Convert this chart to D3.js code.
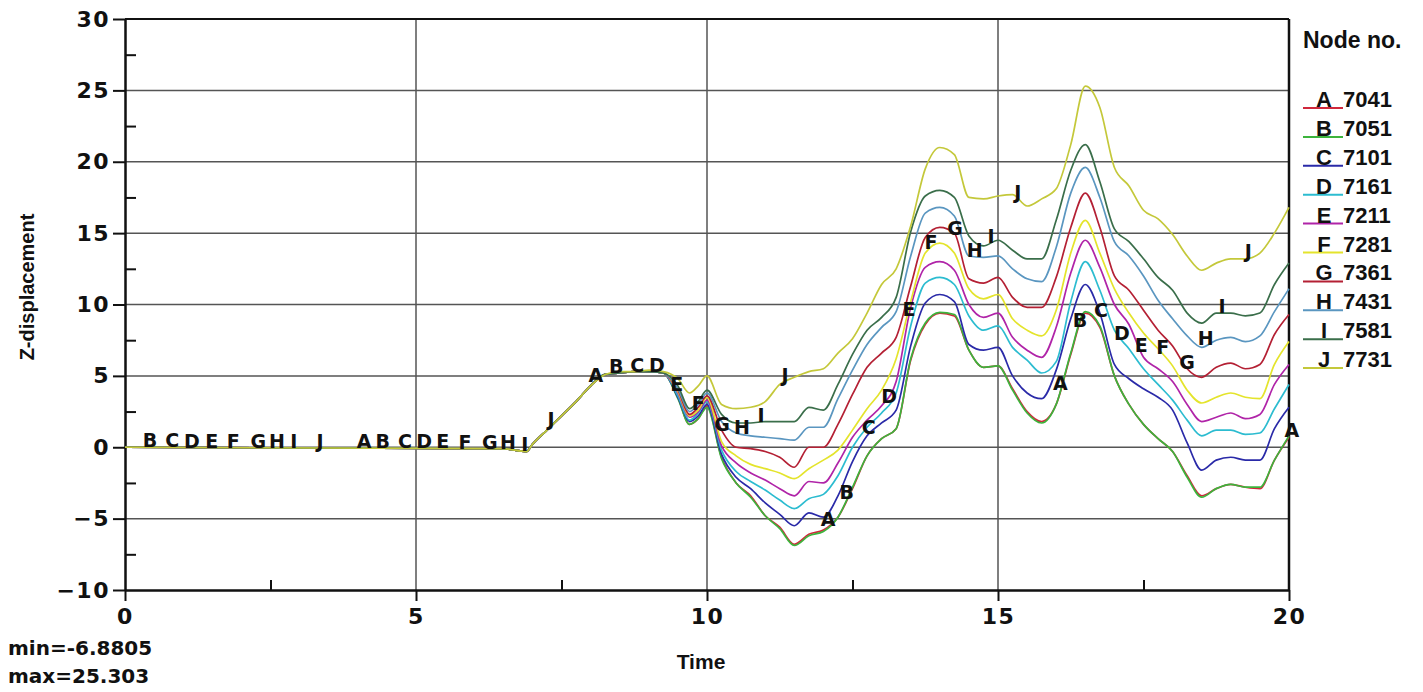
<!DOCTYPE html>
<html>
<head>
<meta charset="utf-8">
<script src="https://cdn.jsdelivr.net/npm/d3@7"></script>
<style>
  html, body { margin: 0; padding: 0; background: #fff; }
  svg { display: block; }
  text { font-weight: bold; fill: #111; }
</style>
</head>
<body>
<svg width="1423" height="692"></svg>
<script>
// time samples (s)
const times = [0, 6.5, 6.9, 7.0, 7.25, 7.5, 7.75, 8.0, 8.25, 8.5, 8.75, 9.0, 9.25,
  9.5, 9.7, 9.85, 10.0, 10.25, 10.5, 10.75, 11.0, 11.25, 11.5, 11.75, 12.0, 12.25, 12.5, 12.75,
  13.0, 13.25, 13.5, 13.75, 14.0, 14.25, 14.5, 14.75, 15.0, 15.25, 15.5, 15.75, 16.0, 16.25,
  16.5, 16.75, 17.0, 17.25, 17.5, 17.75, 18.0, 18.25, 18.5, 18.75, 19.0, 19.25, 19.5, 19.75, 20.0];

// z-displacement per node
const nodeA = [0, -0.1, -0.3, 0.2, 1.2, 2.2, 3.2, 4.3, 5.1, 5.2, 5.3, 5.3, 5.2,
  3.5, 1.6, 2.0, 2.9, -0.7, -2.5, -3.4, -4.8, -5.6, -6.8, -6.1, -5.8, -4.9, -2.9, -0.6, 0.6, 1.3,
  6.1, 8.6, 9.4, 9.2, 6.8, 5.6, 5.7, 4.1, 2.5, 1.8, 3.0, 6.5, 9.4, 8.4, 5.0, 3.0, 1.6, 0.6, -0.3,
  -2.0, -3.4, -2.9, -2.6, -2.8, -2.9, -0.9, 0.7];
const nodeB = [0, -0.1, -0.3, 0.2, 1.2, 2.2, 3.2, 4.3, 5.1, 5.2, 5.3, 5.3, 5.2,
  3.4, 1.6, 2.0, 2.8, -0.8, -2.5, -3.5, -4.8, -5.7, -6.88, -6.2, -5.9, -4.9, -2.8, -0.6, 0.6, 1.3,
  6.2, 8.7, 9.45, 9.3, 6.8, 5.6, 5.7, 4.0, 2.4, 1.7, 3.0, 6.6, 9.5, 8.5, 5.0, 3.0, 1.6, 0.6, -0.3,
  -2.1, -3.5, -2.9, -2.6, -2.8, -2.8, -0.9, 0.8];
const nodeC = [0, -0.1, -0.3, 0.2, 1.2, 2.2, 3.2, 4.3, 5.1, 5.2, 5.3, 5.3, 5.2,
  3.5, 1.8, 2.2, 3.0, -0.5, -2.1, -2.9, -3.9, -4.7, -5.5, -4.6, -4.9, -3.4, -1.0, 0.8, 1.7, 2.6,
  7.1, 10.1, 10.7, 10.2, 7.2, 6.8, 7.0, 5.0, 3.8, 3.4, 5.4, 9.0, 11.4, 9.4, 5.8, 4.8, 4.1, 3.5, 2.6,
  0.3, -1.6, -0.9, -0.7, -0.9, -0.9, 1.3, 2.8];
const nodeD = [0, -0.1, -0.3, 0.2, 1.2, 2.2, 3.2, 4.3, 5.1, 5.2, 5.3, 5.3, 5.2,
  3.6, 1.9, 2.4, 3.2, -0.2, -1.7, -2.4, -3.0, -3.7, -4.3, -3.6, -3.3, -2.0, 0.0, 1.4, 2.4, 3.8,
  8.5, 11.5, 11.9, 11.4, 9.2, 8.2, 8.5, 7.0, 6.1, 5.2, 6.0, 10.2, 13.0, 11.0, 8.2, 6.9, 5.5, 4.4, 3.3,
  1.9, 0.8, 1.2, 1.2, 0.9, 1.0, 2.7, 4.4];
const nodeE = [0, -0.1, -0.3, 0.2, 1.2, 2.2, 3.2, 4.3, 5.1, 5.2, 5.3, 5.3, 5.2,
  3.8, 2.1, 2.5, 3.3, 0.1, -1.1, -1.8, -2.3, -2.9, -3.4, -2.4, -2.5, -1.1, 0.7, 1.9, 2.9, 4.6,
  9.8, 12.6, 13.0, 12.4, 10.0, 9.1, 9.4, 7.7, 6.8, 6.3, 8.4, 12.2, 14.5, 12.6, 10.0, 8.6, 6.3, 5.5, 4.6,
  3.0, 1.8, 2.1, 2.4, 2.0, 2.3, 4.4, 5.8];
const nodeF = [0, -0.1, -0.3, 0.2, 1.2, 2.2, 3.2, 4.3, 5.1, 5.2, 5.3, 5.3, 5.2,
  3.9, 2.2, 2.6, 3.5, 0.4, -0.6, -1.2, -1.5, -1.8, -2.2, -1.5, -0.9, -0.2, 1.2, 2.7, 4.0, 6.2,
  10.2, 13.6, 14.3, 13.6, 11.1, 10.4, 10.7, 9.0, 8.2, 7.8, 9.6, 13.6, 15.9, 13.6, 11.1, 9.4, 8.0, 6.9, 5.7,
  4.0, 3.1, 3.5, 3.8, 3.5, 3.4, 5.8, 7.4];
const nodeG = [0, -0.1, -0.3, 0.2, 1.2, 2.2, 3.2, 4.3, 5.1, 5.2, 5.3, 5.3, 5.2,
  4.0, 2.3, 2.8, 3.6, 1.2, 0.0, -0.1, -0.3, -0.7, -1.4, 0.0, 0.0, 1.6, 3.7, 5.6, 6.6, 7.7,
  11.3, 14.7, 15.4, 15.0, 11.8, 11.5, 11.9, 10.5, 9.8, 9.8, 11.9, 15.4, 17.8, 15.4, 12.0, 11.0, 9.6, 8.2, 7.1,
  5.5, 4.9, 5.6, 5.9, 5.5, 5.8, 7.9, 9.3];
const nodeH = [0, -0.1, -0.3, 0.2, 1.2, 2.2, 3.2, 4.3, 5.1, 5.2, 5.3, 5.3, 5.2,
  4.1, 2.5, 3.0, 3.8, 1.8, 1.0, 0.8, 0.7, 0.6, 0.5, 1.4, 1.4, 3.4, 5.4, 7.2, 8.4, 9.5,
  13.4, 16.4, 16.8, 16.2, 13.4, 13.3, 13.4, 12.5, 11.8, 11.6, 14.0, 17.8, 19.6, 17.5, 14.4, 13.4, 12.0, 10.3, 9.0,
  7.8, 7.0, 7.5, 7.7, 7.4, 7.8, 9.5, 11.1];
const nodeI = [0, -0.1, -0.3, 0.2, 1.2, 2.2, 3.2, 4.3, 5.1, 5.2, 5.3, 5.3, 5.2,
  4.3, 2.7, 3.2, 4.0, 2.3, 1.7, 1.7, 1.8, 1.8, 1.8, 2.8, 2.6, 4.4, 6.5, 8.2, 9.1, 10.5,
  15.1, 17.6, 18.0, 17.5, 14.8, 14.1, 14.5, 13.8, 13.2, 13.2, 15.9, 19.4, 21.2, 18.6, 15.3, 14.4, 13.2, 11.9, 11.0,
  9.4, 8.7, 9.4, 9.4, 9.2, 9.4, 11.4, 12.9];
const nodeJ = [0, -0.1, -0.3, 0.2, 1.2, 2.2, 3.2, 4.3, 5.1, 5.3, 5.3, 5.4, 5.3,
  4.8, 3.8, 4.3, 5.0, 3.0, 2.7, 2.8, 3.2, 4.4, 4.9, 5.3, 5.5, 6.6, 7.6, 9.4, 11.4, 12.5,
  15.5, 19.5, 21.0, 20.5, 17.5, 17.4, 17.6, 17.7, 16.9, 17.4, 18.1, 21.2, 25.3, 23.8, 19.6, 18.3, 16.6, 16.0, 14.9,
  13.4, 12.4, 12.9, 13.2, 13.2, 13.6, 15.0, 16.8];

const nodeLetters = ["A", "B", "C", "D", "E", "F", "G", "H", "I", "J"];
const nodeNumbers = ["7041", "7051", "7101", "7161", "7211", "7281", "7361", "7431", "7581", "7731"];
const nodeColors = ["#d0283c", "#3cb43c", "#2a2aa8", "#2cbcd0", "#b024a8", "#e4e42c", "#b42034", "#5a96c0", "#3a6e4a", "#c4c83a"];

// times at which the curve letters are written
const markerTimes = [
  [4.11, 8.09, 12.08, 16.07, 20.05],
  [0.43, 4.43, 8.44, 12.4, 16.41],
  [0.81, 4.81, 8.8, 12.78, 16.77],
  [1.15, 5.14, 9.14, 13.13, 17.13],
  [1.49, 5.46, 9.48, 13.47, 17.46],
  [1.86, 5.84, 9.85, 13.85, 17.83],
  [2.29, 6.27, 10.26, 14.26, 18.25],
  [2.61, 6.58, 10.6, 14.6, 18.57],
  [2.9, 6.87, 10.93, 14.88, 18.85],
  [3.35, 7.32, 11.34, 15.34, 19.3]
];

const xTicks = [0, 5, 10, 15, 20];
const yTicks = [-10, -5, 0, 5, 10, 15, 20, 25, 30];
const xMinor = [2.5, 7.5, 12.5, 17.5];
const yMinor = [-7.5, -2.5, 2.5, 7.5, 12.5, 17.5, 22.5, 27.5];

const seriesValues = [nodeA, nodeB, nodeC, nodeD, nodeE, nodeF, nodeG, nodeH, nodeI, nodeJ];

const svg = d3.select("svg");
const plotLeft = 125, plotRight = 1289, plotTop = 19, plotBottom = 590;

const x = d3.scaleLinear().domain([0, 20]).range([plotLeft, plotRight]);
const y = d3.scaleLinear().domain([-10, 30]).range([plotBottom, plotTop]);

const dejavu = '"DejaVu Sans", sans-serif';
const libsans = '"Liberation Sans", Arial, sans-serif';

// grid
svg.append("g")
  .selectAll("line")
  .data(xTicks.slice(1, -1))
  .join("line")
  .attr("x1", d => x(d)).attr("x2", d => x(d))
  .attr("y1", plotTop).attr("y2", plotBottom)
  .attr("stroke", "#555").attr("stroke-width", 1.5);
svg.append("g")
  .selectAll("line")
  .data(yTicks.slice(1, -1))
  .join("line")
  .attr("x1", plotLeft).attr("x2", plotRight)
  .attr("y1", d => y(d)).attr("y2", d => y(d))
  .attr("stroke", "#555").attr("stroke-width", 1.5);

// frame
svg.append("line").attr("x1", plotLeft).attr("x2", plotRight).attr("y1", plotTop).attr("y2", plotTop)
  .attr("stroke", "#111").attr("stroke-width", 2);
svg.append("line").attr("x1", plotRight).attr("x2", plotRight).attr("y1", plotTop).attr("y2", plotBottom)
  .attr("stroke", "#111").attr("stroke-width", 2.5);

// axes
const yAxis = svg.append("g")
  .attr("transform", `translate(${plotLeft},0)`)
  .call(d3.axisLeft(y).tickValues(yTicks).tickSize(12).tickPadding(3).tickSizeOuter(0));
const yMinorAxis = svg.append("g")
  .attr("transform", `translate(${plotLeft},0)`)
  .call(d3.axisRight(y).tickValues(yMinor).tickSize(11).tickFormat("").tickSizeOuter(0));
const xAxis = svg.append("g")
  .attr("transform", `translate(0,${plotBottom})`)
  .call(d3.axisBottom(x).tickValues(xTicks).tickSize(11).tickPadding(6).tickSizeOuter(0));
const xMinorAxis = svg.append("g")
  .attr("transform", `translate(0,${plotBottom})`)
  .call(d3.axisTop(x).tickValues(xMinor).tickSize(10).tickFormat("").tickSizeOuter(0));

[yAxis, yMinorAxis, xAxis, xMinorAxis].forEach(g => {
  g.selectAll("path.domain").attr("stroke", "#111").attr("stroke-width", 2);
  g.selectAll(".tick line").attr("stroke", "#111").attr("stroke-width", 2);
});
[yAxis, xAxis].forEach(g => {
  g.selectAll(".tick text")
    .style("font-family", dejavu).style("font-size", "22px").style("font-weight", "bold")
    .style("letter-spacing", "1.5px").attr("fill", "#111");
});
xAxis.selectAll(".tick text").attr("dy", "0.75em");

// curves
const line = d3.line()
  .x((d, i) => x(times[i]))
  .y(d => y(d))
  .curve(d3.curveMonotoneX);

svg.append("g")
  .selectAll("path")
  .data(seriesValues)
  .join("path")
  .attr("d", d => line(d))
  .attr("fill", "none")
  .attr("stroke", (d, i) => nodeColors[i])
  .attr("stroke-width", 1.7)
  .attr("stroke-linejoin", "round");

// letters along the curves
function valueAt(vals, t) {
  if (t >= times[times.length - 1]) return vals[vals.length - 1];
  const i = d3.bisectRight(times, t) - 1;
  const f = (t - times[i]) / (times[i + 1] - times[i]);
  return vals[i] + f * (vals[i + 1] - vals[i]);
}
const markers = [];
markerTimes.forEach((ts, k) => ts.forEach(t => markers.push({ k, t, v: valueAt(seriesValues[k], t) })));
svg.append("g")
  .selectAll("text")
  .data(markers)
  .join("text")
  .attr("x", d => x(d.t))
  .attr("y", d => y(d.v))
  .attr("text-anchor", "middle")
  .style("font-family", dejavu)
  .style("font-size", "19px")
  .text(d => nodeLetters[d.k]);

// axis titles
svg.append("text")
  .attr("transform", `translate(34,287) rotate(-90)`)
  .attr("text-anchor", "middle")
  .style("font-family", libsans).style("font-size", "20px")
  .text("Z-displacement");
svg.append("text")
  .attr("x", 701).attr("y", 669)
  .attr("text-anchor", "middle")
  .style("font-family", libsans).style("font-size", "21px")
  .text("Time");

// min / max
svg.append("text").attr("x", 8).attr("y", 655)
  .style("font-family", dejavu).style("font-size", "20px")
  .text("min=-6.8805");
svg.append("text").attr("x", 8).attr("y", 683)
  .style("font-family", dejavu).style("font-size", "20px")
  .text("max=25.303");

// legend
const legend = svg.append("g");
legend.append("text").attr("x", 1303).attr("y", 48)
  .style("font-family", libsans).style("font-size", "23px")
  .text("Node no.");
const entry = legend.selectAll("g")
  .data(nodeLetters)
  .join("g")
  .attr("transform", (d, i) => `translate(0,${107 + i * 28.9})`);
entry.append("line")
  .attr("x1", 1303).attr("x2", 1343).attr("y1", 1).attr("y2", 1)
  .attr("stroke", (d, i) => nodeColors[i]).attr("stroke-width", 2);
entry.append("text")
  .attr("x", 1324).attr("y", 0)
  .attr("text-anchor", "middle")
  .style("font-family", libsans).style("font-size", "22px")
  .text(d => d);
entry.append("text")
  .attr("x", 1343).attr("y", 0)
  .style("font-family", libsans).style("font-size", "22px")
  .text((d, i) => nodeNumbers[i]);
</script>
</body>
</html>
